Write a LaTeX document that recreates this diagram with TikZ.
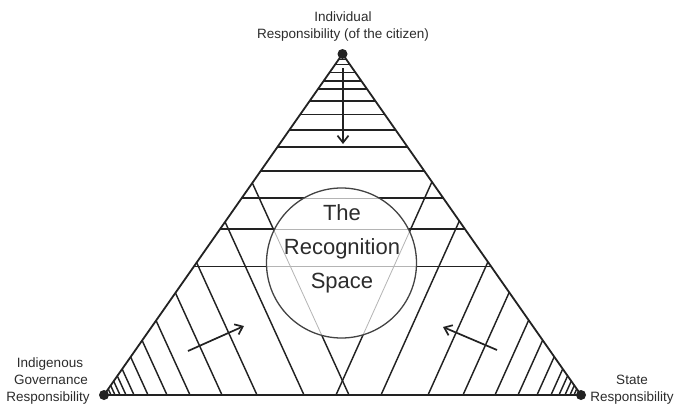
\documentclass[tikz,border=0pt]{standalone}
\usepackage{fontspec}
\setmainfont{Liberation Sans}
\usetikzlibrary{calc,arrows.meta}
\definecolor{ink}{HTML}{222222}
\definecolor{txt}{HTML}{2C2C2C}
\definecolor{faint}{HTML}{B4B4B4}
\newcommand\drawhatch[1]{%
  \foreach \yy in {59.5,64.5,72.5,81,89,101,114.5,130,147,171,198,229,266.5}
    \draw[#1] ($(L)!{(395-\yy)/341}!(T)$) -- ($(R)!{(395-\yy)/341}!(T)$);
  \foreach \dd in {245,200,153,118,86,63,44,30,22,16,11,7} {
    \draw[#1] ($(L)!{\dd/394}!(T)$) -- ($(L)!{\dd/477}!(R)$);
    \draw[#1] ($(R)!{\dd/392}!(T)$) -- ($(R)!{\dd/477}!(L)$);
  }%
}
\begin{document}
\begin{tikzpicture}[x=1pt,y=-1pt,
  hatch/.style={draw=ink,line width=1.45pt},
  thin hatch/.style={draw=faint,line width=0.8pt},
  edge/.style={draw=ink,line width=1.8pt,line join=round},
  vdot/.style={circle,fill=ink,inner sep=0pt,minimum size=10pt},
  arr/.style={draw=ink,line width=1.7pt,-{Straight Barb[length=7pt,width=11pt]}},
  lab/.style={text=txt,font=\fontsize{13.5}{17}\selectfont,anchor=base,inner sep=0pt},
  big/.style={text=txt,font=\fontsize{22}{26}\selectfont,anchor=base,inner sep=0pt}]
\useasboundingbox (0,0) rectangle (675,407);
\fill[white] (0,0) rectangle (675,407);
\coordinate (L) at (104,395);
\coordinate (R) at (581,395);
\coordinate (T) at (342.5,54);
\coordinate (C) at (341.5,263);
% hatching
\drawhatch{hatch}
% recognition space
\fill[white] (C) circle[radius=75];
\begin{scope}
  \clip (C) circle[radius=75];
  \drawhatch{thin hatch}
\end{scope}
\draw[draw=ink!85,line width=1.3pt] (C) circle[radius=75];
% triangle
\draw[edge] (L) -- (T) -- (R) -- cycle;
\node[vdot] (dT) at (T) {};
\node[vdot] (dL) at (L) {};
\node[vdot] (dR) at (R) {};
% arrows
\coordinate (a1s) at (343,68);  \coordinate (a1e) at (343,144);
\coordinate (a2s) at (188,351); \coordinate (a2e) at (244,326);
\coordinate (a3s) at (497,350); \coordinate (a3e) at (443,327);
\draw[arr] (a1s) -- (a1e);
\draw[arr] (a2s) -- (a2e);
\draw[arr] (a3s) -- (a3e);
% labels
\node[lab] (t1) at (343,21.5) {Individual};
\node[lab] (t2) at (343,38.5) {Responsibility (of the citizen)};
\node[lab] (l1) at (50,367) {Indigenous};
\node[lab] (l2) at (51,384) {Governance};
\node[lab] (l3) at (48,401) {Responsibility};
\node[lab] (r1) at (632,384) {State};
\node[lab] (r2) at (632,401) {Responsibility};
\node[big] (s1) at (342,220) {The};
\node[big] (s2) at (342,254) {Recognition};
\node[big] (s3) at (342,288) {Space};
\end{tikzpicture}
\end{document}
